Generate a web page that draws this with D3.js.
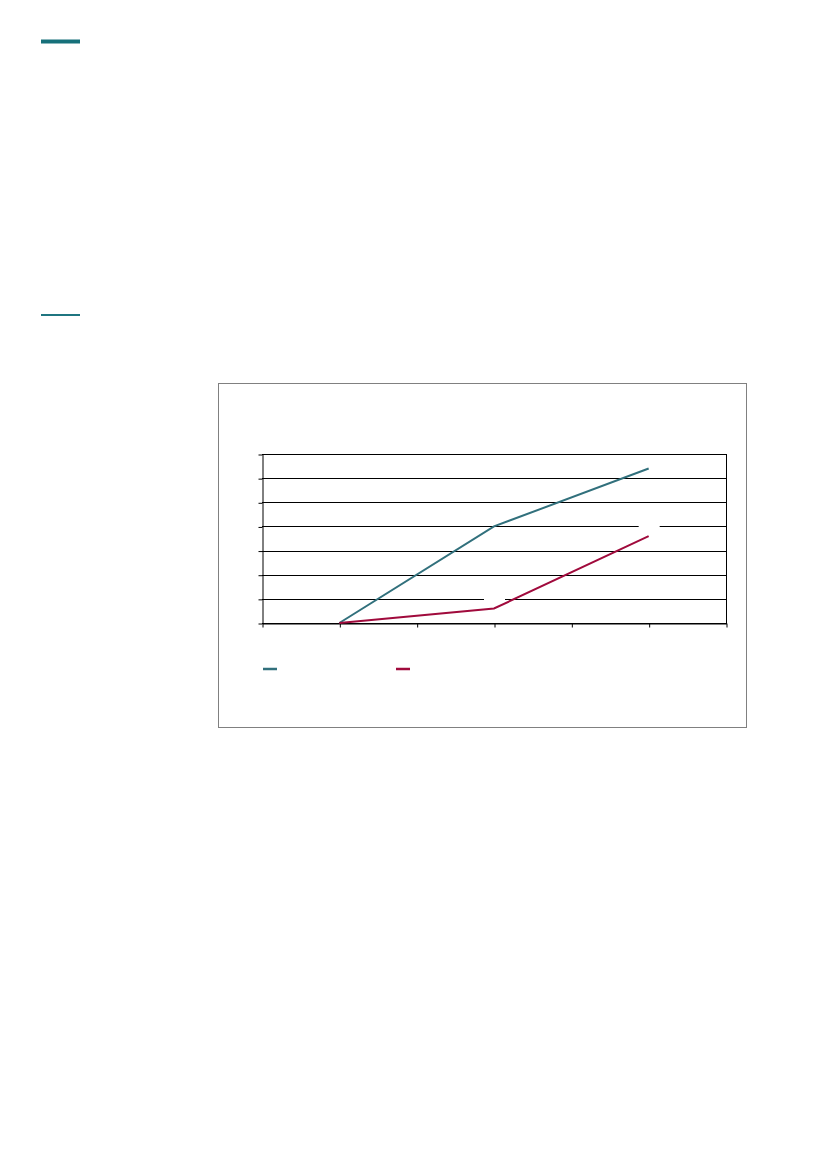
<!DOCTYPE html>
<html>
<head>
<meta charset="utf-8">
<script src="https://cdn.jsdelivr.net/npm/d3@7"></script>
<style>
  body { margin: 0; background: #fff; }
  svg { display: block; }
</style>
</head>
<body>
<div id="page"></div>
<script>
const pageWidth = 827;
const pageHeight = 1169;

// chart data (category labels are blank in the source)
const categoryIndex = [0, 1, 2, 3, 4, 5, 6];
const categoryLabels = ['', '', '', '', '', '', ''];
const yTicks = [0, 1, 2, 3, 4, 5, 6, 7];
const yTickLabels = ['', '', '', '', '', '', '', ''];
const seriesNames = ['', ''];
const seriesA = [{ x: 1, y: 0 }, { x: 3, y: 4.0 }, { x: 5, y: 6.4 }];
const seriesB = [{ x: 1, y: 0 }, { x: 3, y: 0.6 }, { x: 5, y: 3.6 }];
const labelledPoints = [seriesB[1], seriesB[2]];

const colorA = '#31707c';
const colorB = '#a00a3c';

const svg = d3.select('#page').append('svg')
  .attr('width', pageWidth)
  .attr('height', pageHeight);

// page header rules
svg.append('rect')
  .attr('x', 41).attr('y', 39.5)
  .attr('width', 39).attr('height', 4)
  .style('fill', '#16707a');

svg.append('rect')
  .attr('x', 41).attr('y', 314)
  .attr('width', 39).attr('height', 2)
  .style('fill', '#1f7580');

// chart frame
svg.append('rect')
  .attr('x', 218.5).attr('y', 383.5)
  .attr('width', 528).attr('height', 344)
  .style('fill', '#fff')
  .style('stroke', '#808080')
  .style('stroke-width', 1);

const plot = { left: 262, right: 726, top: 454, bottom: 623 };

const x = d3.scaleLinear()
  .domain([0, 6])
  .range([plot.left, plot.right]);

const y = d3.scaleLinear()
  .domain([0, 7])
  .range([plot.bottom, plot.top]);

// gridlines
svg.append('g')
  .selectAll('line')
  .data(yTicks)
  .enter()
  .append('line')
    .attr('x1', plot.left)
    .attr('x2', plot.right)
    .attr('y1', d => Math.round(y(d)) + 0.5)
    .attr('y2', d => Math.round(y(d)) + 0.5)
    .style('stroke', '#000')
    .style('stroke-width', 1);

// right side of plot area
svg.append('line')
  .attr('x1', plot.right + 0.5).attr('x2', plot.right + 0.5)
  .attr('y1', plot.top).attr('y2', plot.bottom + 1)
  .style('stroke', '#000');

// Y-Axis
svg.append('g')
  .attr('transform', `translate(${plot.left + 0.5}, 0.5)`)
  .call(d3.axisLeft(y).tickValues(yTicks).tickFormat((d, i) => yTickLabels[i]).tickSize(4).tickSizeOuter(0))
  .call(g => g.selectAll('line, path').style('stroke', '#000'));

// X-Axis
svg.append('g')
  .attr('transform', `translate(0.5, ${plot.bottom + 0.5})`)
  .call(d3.axisBottom(x).tickValues(categoryIndex).tickFormat((d, i) => categoryLabels[i]).tickSize(4).tickSizeOuter(0))
  .call(g => g.selectAll('line, path').style('stroke', '#000'));

// white boxes behind the data labels
svg.append('g')
  .selectAll('rect')
  .data(labelledPoints)
  .enter()
  .append('rect')
    .attr('x', d => x(d.x) - 10)
    .attr('y', d => y(d.y) - 15)
    .attr('width', 21)
    .attr('height', 10)
    .style('fill', '#fff');

// Lines
const line = d3.line()
  .x(d => x(d.x))
  .y(d => y(d.y));

[[seriesA, colorA], [seriesB, colorB]].forEach(([data, color]) => {
  svg.append('path')
    .datum(data)
    .attr('d', line)
    .style('fill', 'none')
    .style('stroke', color)
    .style('stroke-width', 2);
});

// Legend
const legend = svg.append('g')
  .selectAll('g')
  .data(seriesNames)
  .enter()
  .append('g')
    .attr('transform', (d, i) => `translate(${263 + i * 133}, 669)`);

legend.append('line')
  .attr('x1', 0).attr('x2', 14)
  .attr('y1', 0).attr('y2', 0)
  .style('stroke', (d, i) => i === 0 ? colorA : colorB)
  .style('stroke-width', 2.5);

legend.append('text')
  .attr('x', 20)
  .attr('y', 4)
  .attr('font-family', 'Arial, Liberation Sans, sans-serif')
  .attr('font-size', 11)
  .text(d => d);
</script>
</body>
</html>
